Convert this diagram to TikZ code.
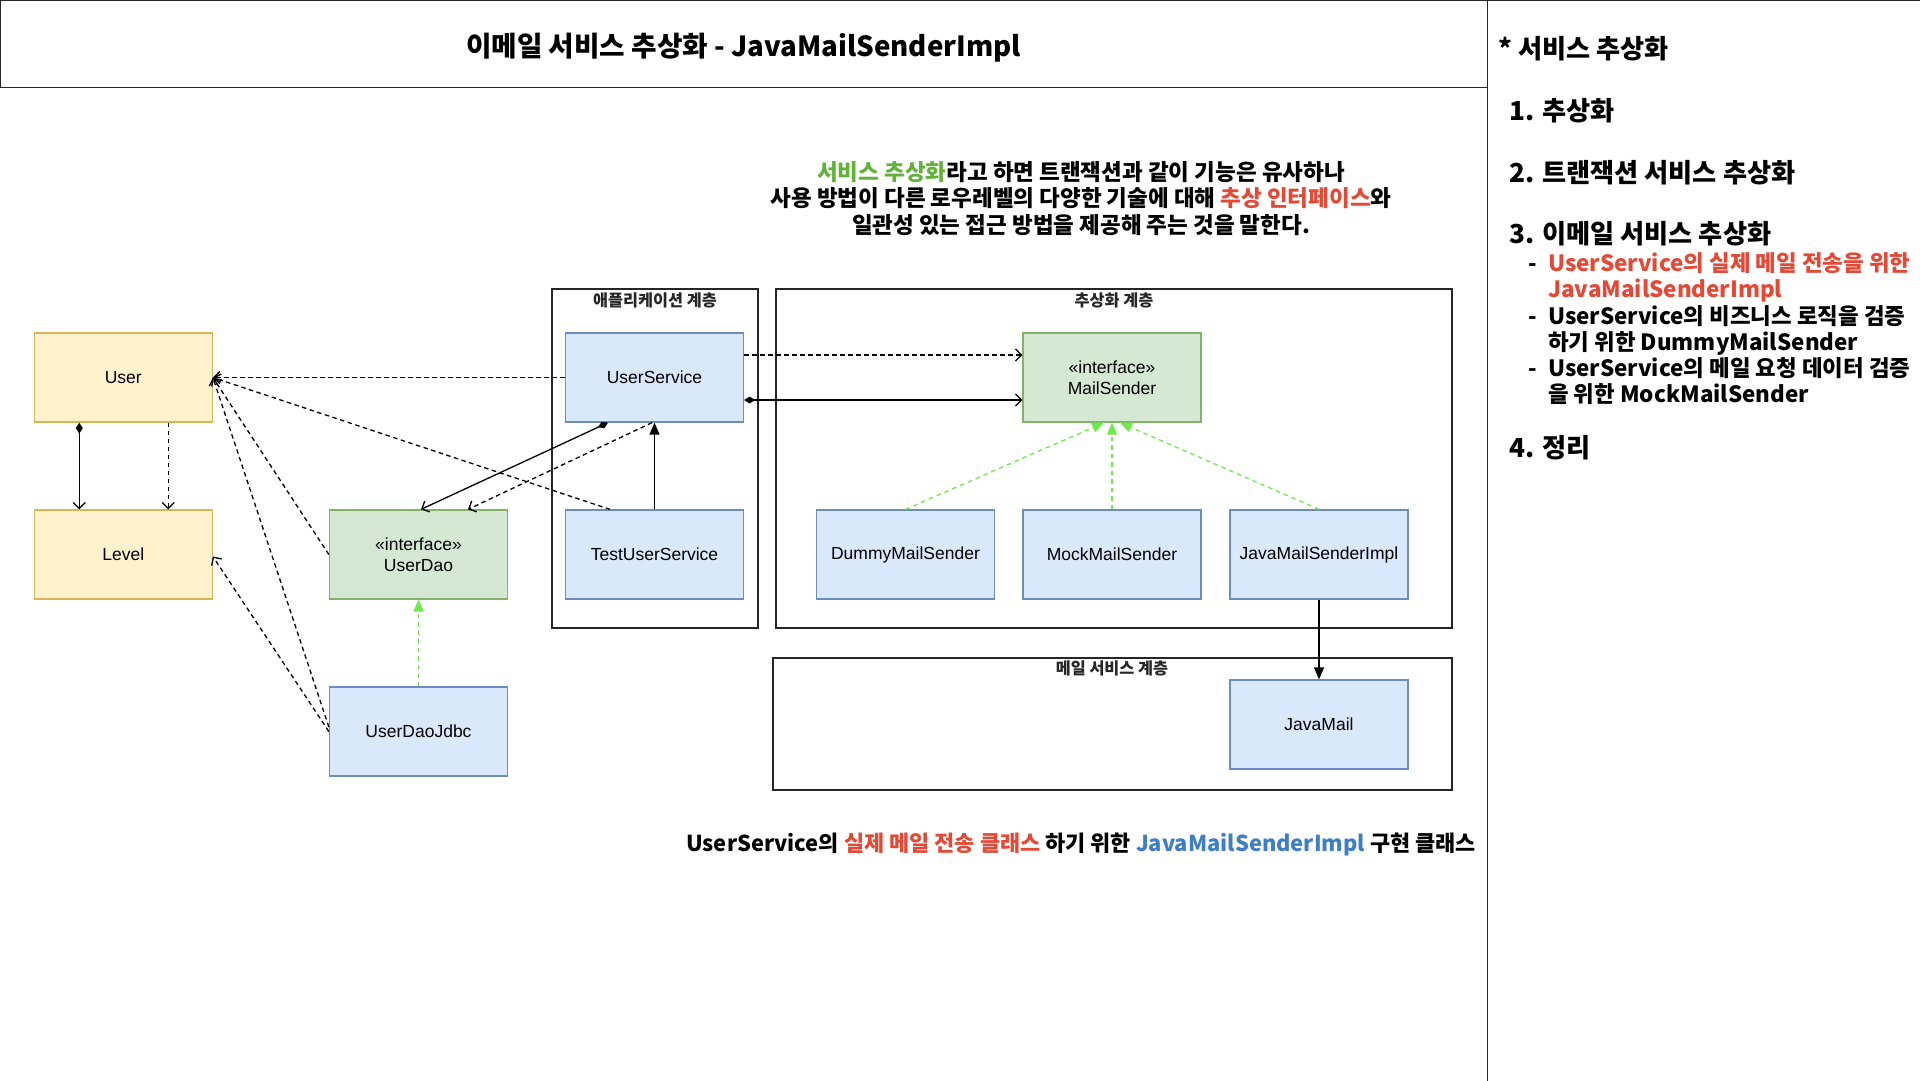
\documentclass[tikz,border=0pt]{standalone}
\usepackage{fontspec}
\setmainfont{Liberation Sans}
\newfontfamily\kor{Noto Sans CJK KR}
\usetikzlibrary{arrows.meta}
\definecolor{yfill}{HTML}{FFF2CC}
\definecolor{ystroke}{HTML}{D6B656}
\definecolor{gfill}{HTML}{D5E8D4}
\definecolor{gstroke}{HTML}{82B366}
\definecolor{bfill}{HTML}{DAE8FC}
\definecolor{bstroke}{HTML}{6C8EBF}
\definecolor{impl}{RGB}{110,235,75}
\definecolor{tgreen}{RGB}{98,178,58}
\definecolor{tred}{RGB}{229,72,52}
\definecolor{tblue}{RGB}{62,125,200}
\tikzset{
  box/.style={draw, line width=1.3pt, minimum width=178pt, minimum height=89pt, inner sep=0pt,
    align=center, font=\fontsize{17.5}{20.7}\selectfont},
  yel/.style={box, fill=yfill, draw=ystroke},
  grn/.style={box, fill=gfill, draw=gstroke},
  blu/.style={box, fill=bfill, draw=bstroke},
  layer/.style={draw=black!85, line width=1.4pt, inner sep=0pt},
  layertitle/.style={inner sep=0pt, font=\kor\bfseries\fontsize{16.3}{19}\selectfont, text=black!85},
  kt/.style={inner sep=0pt, anchor=west, text height=0.8em, text depth=0.2em, font=\kor\bfseries\fontsize{26.2}{30}\selectfont},
  ks/.style={inner sep=0pt, anchor=west, text height=0.8em, text depth=0.2em, font=\kor\bfseries\fontsize{22.4}{26}\selectfont},
  dep/.style={line width=1.3pt, dash pattern=on 4.5pt off 3.5pt, -{Straight Barb[length=6pt,width=12pt]}},
  assoc/.style={line width=1.3pt, {Diamond[length=11pt,width=7pt]}-{Straight Barb[length=6pt,width=12pt]}},
  inh/.style={line width=1.4pt, -{Triangle[length=12pt,width=10pt]}},
  realize/.style={draw=impl, line width=1.3pt, dash pattern=on 4.5pt off 4pt, -{Triangle[length=12pt,width=10pt,fill=impl]}},
}
\begin{document}
\begin{tikzpicture}[x=1pt,y=-1pt]
\useasboundingbox (0,0) rectangle (1920,1080);
\fill[white] (0,0) rectangle (1920,1080);

% frames
\node[draw=black!85, line width=1.4pt, minimum width=1487pt, minimum height=87pt, inner sep=0pt, anchor=north west] (titlebox) at (0,0) {};
\node[draw=black!85, line width=1.4pt, minimum width=433pt, minimum height=1082pt, inner sep=0pt, anchor=north west] (panel) at (1487,0) {};
\node[inner sep=0pt, font=\kor\bfseries\fontsize{27.7}{32}\selectfont] (title) at (743.5,48) {이메일 서비스 추상화 - JavaMailSenderImpl};

% description
\node[inner sep=0pt, align=center, font=\kor\bfseries\fontsize{22.5}{26.5}\selectfont] (desc) at (1081,198.5)
 {{\color{tgreen}서비스 추상화}라고 하면 트랜잭션과 같이 기능은 유사하나\\
  사용 방법이 다른 로우레벨의 다양한 기술에 대해 {\color{tred}추상 인터페이스}와\\
  일관성 있는 접근 방법을 제공해 주는 것을 말한다.};

% layers
\node[layer, minimum width=206pt, minimum height=339pt] (applayer) at (655,458.5) {};
\node[layer, minimum width=676pt, minimum height=339pt] (abslayer) at (1114,458.5) {};
\node[layer, minimum width=679pt, minimum height=132pt] (maillayer) at (1112.5,724) {};
\node[layertitle] (applt) at (655,300) {애플리케이션 계층};
\node[layertitle] (abslt) at (1114,300) {추상화 계층};
\node[layertitle] (maillt) at (1112,668) {메일 서비스 계층};

% classes
\node[yel] (user) at (123.25,377.5) {User};
\node[yel] (level) at (123.25,554.5) {Level};
\node[grn] (udao) at (418.5,554.5) {«interface»\\UserDao};
\node[blu] (udaojdbc) at (418.5,731.5) {UserDaoJdbc};
\node[blu] (usvc) at (654.5,377.5) {UserService};
\node[blu] (tusvc) at (654.5,554.5) {TestUserService};
\node[grn] (msender) at (1112,377.5) {«interface»\\MailSender};
\node[blu] (dummy) at (905.5,554.5) {DummyMailSender};
\node[blu] (mock) at (1112,554.5) {MockMailSender};
\node[blu] (jmsi) at (1319,554.5) {JavaMailSenderImpl};
\node[blu] (jmail) at (1319,724.5) {JavaMail};

% connectors
\draw[dep] (usvc.west) -- (user.east);
\draw[dep] ([xshift=-44.5pt]tusvc.north) -- (user.east);
\draw[dep] (udao.west) -- (user.east);
\draw[dep] ([yshift=4.5pt]udaojdbc.west) -- (user.east);
\draw[dep] (udaojdbc.west) -- ([yshift=-2pt]level.east);
\draw[assoc] ([xshift=-44pt]user.south) -- ([xshift=-44pt]level.north);
\draw[dep] ([xshift=45pt]user.south) -- ([xshift=45pt]level.north);
\draw[realize] (udaojdbc.north) -- (udao.south);
\draw[assoc] ([xshift=-46.5pt]usvc.south) -- ([xshift=2.5pt]udao.north);
\draw[dep] ([xshift=-2.5pt]usvc.south) -- ([xshift=49.5pt]udao.north);
\draw[inh] (tusvc.north) -- (usvc.south);
\draw[dep] ([yshift=22.5pt]usvc.east) -- ([yshift=22.5pt]msender.west);
\draw[assoc] ([yshift=-22.5pt]usvc.east) -- ([yshift=-22.5pt]msender.west);
\draw[realize] (dummy.north) -- ([xshift=-8pt]msender.south);
\draw[realize] (mock.north) -- (msender.south);
\draw[realize] (jmsi.north) -- ([xshift=8pt]msender.south);
\draw[inh] (jmsi.south) -- (jmail.north);

% bottom caption
\node[inner sep=0pt, anchor=east, font=\kor\bfseries\fontsize{21.9}{26}\selectfont] (caption) at (1476,844)
 {UserService의 {\color{tred}실제 메일 전송 클래스} 하기 위한 {\color{tblue}JavaMailSenderImpl} 구현 클래스};

% right panel
\node[kt] (p0) at (1498,55) {* 서비스 추상화};
\node[kt] (p1) at (1509,117) {1. 추상화};
\node[kt] (p2) at (1509,179) {2. 트랜잭션 서비스 추상화};
\node[kt] (p3) at (1509,240) {3. 이메일 서비스 추상화};
\node[ks] (d1) at (1528,268) {-};
\node[ks, text=tred] (s1a) at (1548,268) {UserService의 실제 메일 전송을 위한};
\node[ks, text=tred] (s1b) at (1548,294) {JavaMailSenderImpl};
\node[ks] (d2) at (1528,321) {-};
\node[ks] (s2a) at (1548,321) {UserService의 비즈니스 로직을 검증};
\node[ks] (s2b) at (1548,347) {하기 위한 DummyMailSender};
\node[ks] (d3) at (1528,373) {-};
\node[ks] (s3a) at (1548,373) {UserService의 메일 요청 데이터 검증};
\node[ks] (s3b) at (1548,399) {을 위한 MockMailSender};
\node[kt] (p4) at (1509,454) {4. 정리};
\end{tikzpicture}
\end{document}
